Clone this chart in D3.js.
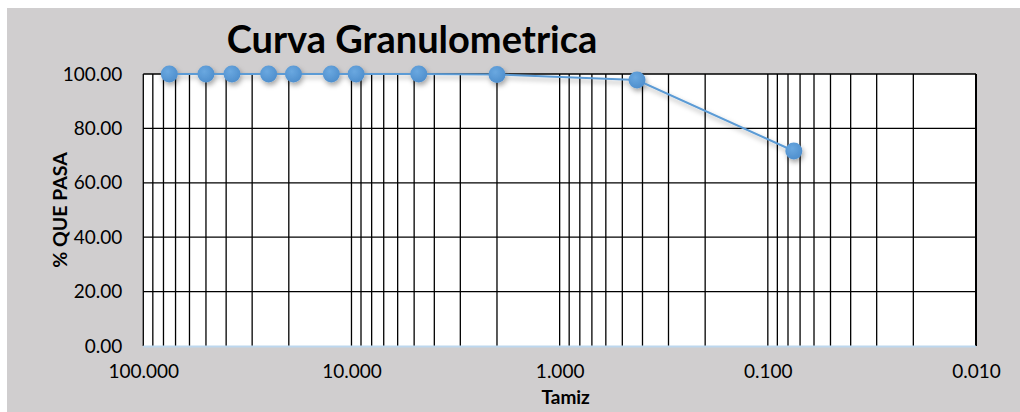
<!DOCTYPE html>
<html>
<head>
<meta charset="utf-8">
<script src="https://cdn.jsdelivr.net/npm/d3@7"></script>
<style>
  html, body { margin: 0; padding: 0; background: #ffffff; }
  svg { display: block; }
</style>
</head>
<body>
<svg id="chart" width="1020" height="412"></svg>
<script>
// Sieve opening (mm) and cumulative percent passing
const tamiz = [75, 50, 37.5, 25, 19, 12.5, 9.5, 4.75, 2.0, 0.425, 0.075];
const pasa  = [100, 100, 100, 100, 100, 100, 100, 100, 99.8, 97.8, 71.7];

// Axis tick labels
const xTicks = [100, 10, 1, 0.1, 0.01];
const yTicks = [0, 20, 40, 60, 80, 100];

// Log grid: each decade subdivided 1..9
const decades = [0.01, 0.1, 1, 10];
const multipliers = [1, 2, 3, 4, 5, 6, 7, 8, 9];

const titleText = "Curva Granulometrica";
const xTitle = "Tamiz";
const yTitle = "% QUE PASA";

const W = 1020, H = 412;
const plot = { left: 143.3, right: 976, top: 74, bottom: 346 };

const svg = d3.select("#chart");
const font = "Lato, 'Open Sans', sans-serif";

// chart area background (white margin top/left)
svg.append("rect").attr("x", 7).attr("y", 8).attr("width", W - 7).attr("height", H - 8)
  .attr("fill", "#d0cecf");

const x = d3.scaleLog().domain([100, 0.01]).range([plot.left, plot.right]);
const y = d3.scaleLinear().domain([0, 100]).range([plot.bottom, plot.top]);

// plot area
svg.append("rect")
  .attr("x", plot.left).attr("y", plot.top)
  .attr("width", plot.right - plot.left).attr("height", plot.bottom - plot.top)
  .attr("fill", "#ffffff");

// vertical grid lines
const gridX = [];
decades.forEach(d => multipliers.forEach(m => gridX.push(d * m)));
gridX.push(100);

svg.append("g").selectAll("line").data(gridX).join("line")
  .attr("x1", d => x(d)).attr("x2", d => x(d))
  .attr("y1", plot.top).attr("y2", plot.bottom)
  .attr("stroke", "#000").attr("stroke-width", 1.3);

// horizontal grid lines
svg.append("g").selectAll("line").data(yTicks.filter(v => v > 0)).join("line")
  .attr("x1", plot.left).attr("x2", plot.right)
  .attr("y1", d => y(d)).attr("y2", d => y(d))
  .attr("stroke", "#000").attr("stroke-width", 1.3);

// right border
svg.append("line")
  .attr("x1", plot.right).attr("x2", plot.right)
  .attr("y1", plot.top).attr("y2", plot.bottom)
  .attr("stroke", "#000").attr("stroke-width", 2);

// bottom axis line
svg.append("line")
  .attr("x1", plot.left).attr("x2", plot.right)
  .attr("y1", plot.bottom + 0.5).attr("y2", plot.bottom + 0.5)
  .attr("stroke", "#bdd7ee").attr("stroke-width", 2);

// x axis labels
const xAxis = d3.axisBottom(x).tickValues(xTicks).tickFormat(d3.format(".3f")).tickSize(0).tickPadding(19);
const gx = svg.append("g").attr("transform", `translate(0,${plot.bottom})`).call(xAxis);
gx.select(".domain").remove();
gx.selectAll("text").attr("font-family", font).attr("font-size", 19).attr("fill", "#000");

// y axis labels
const yAxis = d3.axisLeft(y).tickValues(yTicks).tickFormat(d3.format(".2f")).tickSize(0).tickPadding(21);
const gy = svg.append("g").attr("transform", `translate(${plot.left},0)`).call(yAxis);
gy.select(".domain").remove();
gy.selectAll("text").attr("font-family", font).attr("font-size", 19).attr("fill", "#000");

// title
svg.append("text").attr("x", 412).attr("y", 53).attr("text-anchor", "middle")
  .attr("font-family", font).attr("font-weight", "bold").attr("font-size", 38)
  .attr("fill", "#000").text(titleText);

// axis titles
svg.append("text").attr("x", (plot.left + plot.right) / 2 + 6).attr("y", 404).attr("text-anchor", "middle")
  .attr("font-family", font).attr("font-weight", "bold").attr("font-size", 19)
  .attr("fill", "#000").text(xTitle);

svg.append("text")
  .attr("transform", `translate(67,${(plot.top + plot.bottom) / 2}) rotate(-90)`)
  .attr("text-anchor", "middle")
  .attr("font-family", font).attr("font-weight", "bold").attr("font-size", 19.5)
  .attr("fill", "#000").text(yTitle);

// series
const defs = svg.append("defs");
const shadow = defs.append("filter").attr("id", "shadow")
  .attr("x", "-50%").attr("y", "-50%").attr("width", "200%").attr("height", "200%");
shadow.append("feDropShadow").attr("dx", 1.5).attr("dy", 3).attr("stdDeviation", 2.5)
  .attr("flood-color", "#000").attr("flood-opacity", 0.35);

const grad = defs.append("radialGradient").attr("id", "dot").attr("cx", "40%").attr("cy", "35%").attr("r", "65%");
grad.append("stop").attr("offset", "0%").attr("stop-color", "#6aa8e0");
grad.append("stop").attr("offset", "100%").attr("stop-color", "#4f8fcd");

const pts = tamiz.map((t, i) => [t, pasa[i]]);
const series = svg.append("g").attr("filter", "url(#shadow)");

series.append("path").datum(pts)
  .attr("d", d3.line().x(d => x(d[0])).y(d => y(d[1])))
  .attr("fill", "none").attr("stroke", "#5b9bd5").attr("stroke-width", 2);

series.selectAll("circle").data(pts).join("circle")
  .attr("cx", d => x(d[0])).attr("cy", d => y(d[1])).attr("r", 8.5)
  .attr("fill", "url(#dot)");
</script>
</body>
</html>
